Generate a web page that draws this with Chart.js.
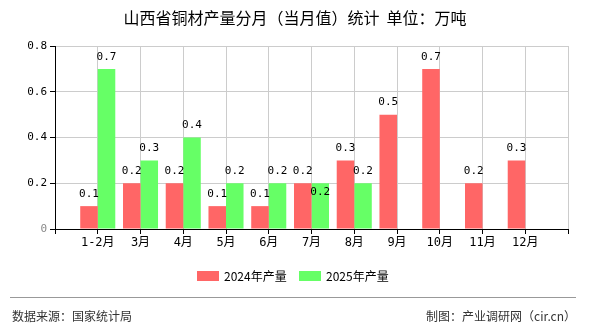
<!DOCTYPE html>
<html>
<head>
<meta charset="utf-8">
<script src="https://cdn.jsdelivr.net/npm/chart.js@4.4.1/dist/chart.umd.min.js"></script>
<style>
  html, body { margin: 0; padding: 0; background: #fff; }
  #wrap { width: 590px; height: 330px; position: relative; }
</style>
</head>
<body>
<div id="wrap"><canvas id="grafica"></canvas></div>
<script>
// datos del gráfico
const meses = ['1-2月', '3月', '4月', '5月', '6月', '7月', '8月', '9月', '10月', '11月', '12月'];
const produccion2024 = [0.1, 0.2, 0.2, 0.1, 0.1, 0.2, 0.3, 0.5, 0.7, 0.2, 0.3];
const produccion2025 = [0.7, 0.3, 0.4, 0.2, 0.2, 0.2, 0.2, null, null, null, null];
const ticksY = [0, 0.2, 0.4, 0.6, 0.8];
const titulo = '山西省铜材产量分月（当月值）统计  单位：万吨';
const fuente = '数据来源：国家统计局';
const autor = '制图：产业调研网（cir.cn）';

const MONO = '"DejaVu Sans Mono", "Noto Sans CJK SC", monospace';
const SANS = '"Noto Sans CJK SC", "DejaVu Sans", sans-serif';

// medio hueco a cada lado: etiqueta vacía al principio y al final
const etiquetas = ['', ...meses, ''];
const relleno = arr => [null, ...arr, null];

const decoracion = {
    id: 'decoracion',
    afterDatasetsDraw(chart) {
        const ctx = chart.ctx;
        ctx.save();
        ctx.font = '11px ' + MONO;
        ctx.fillStyle = '#000';
        ctx.textAlign = 'center';
        ctx.textBaseline = 'middle';
        const cajas = [];
        chart.data.datasets.forEach((ds, i) => {
            const meta = chart.getDatasetMeta(i);
            meta.data.forEach((bar, j) => {
                const v = ds.data[j];
                if (v === null || v === undefined) return;
                const txt = String(v);
                const w = ctx.measureText(txt).width;
                let y = bar.y - 12;
                // si choca con la etiqueta vecina, va dentro de la barra
                const choca = cajas.some(c => Math.abs(c.x - bar.x) < (c.w + w) / 2 && Math.abs(c.y - y) < 12);
                if (choca) y = bar.y + 9;
                cajas.push({ x: bar.x, y: y, w: w });
                ctx.fillText(txt, bar.x, y);
            });
        });
        ctx.restore();
    },
    afterDraw(chart) {
        const ctx = chart.ctx;
        ctx.save();
        // título
        ctx.fillStyle = '#000';
        ctx.font = '16px ' + SANS;
        ctx.textAlign = 'center';
        ctx.textBaseline = 'middle';
        ctx.fillText(titulo, 295, 18);

        // leyenda
        ctx.font = '12px ' + SANS;
        ctx.textAlign = 'left';
        const xs = [197, 299];
        chart.data.datasets.forEach((ds, i) => {
            ctx.fillStyle = ds.backgroundColor;
            ctx.fillRect(xs[i], 271, 22, 10);
            ctx.fillStyle = '#000';
            ctx.fillText(ds.label, xs[i] + 27, 276);
        });

        // pie
        ctx.strokeStyle = '#999';
        ctx.lineWidth = 1;
        ctx.beginPath();
        ctx.moveTo(10, 297.5);
        ctx.lineTo(576, 297.5);
        ctx.stroke();
        ctx.fillStyle = '#333';
        ctx.font = '12px ' + SANS;
        ctx.fillText(fuente, 12, 316);
        ctx.textAlign = 'right';
        ctx.fillText(autor, 576, 316);
        ctx.restore();
    }
};

new Chart(document.getElementById('grafica'), {
    type: 'bar',
    data: {
        labels: etiquetas,
        datasets: [
            {
                label: '2024年产量',
                data: relleno(produccion2024),
                backgroundColor: '#ff6666',
                categoryPercentage: 0.82,
                barPercentage: 1.0
            },
            {
                label: '2025年产量',
                data: relleno(produccion2025),
                backgroundColor: '#66ff66',
                categoryPercentage: 0.82,
                barPercentage: 1.0
            }
        ]
    },
    options: {
        responsive: true,
        maintainAspectRatio: false,
        animation: false,
        layout: { padding: { top: 46, left: 0, right: 22, bottom: 76 } },
        plugins: {
            legend: { display: false },
            title: { display: false },
            tooltip: { enabled: false }
        },
        scales: {
            x: {
                offset: false,
                grid: { display: true, offset: false, color: '#cccccc', tickColor: '#000', tickLength: 5, drawOnChartArea: true },
                border: { color: '#000', width: 1 },
                ticks: { color: '#000', font: { size: 12, family: MONO }, maxRotation: 0, autoSkip: false, padding: 2 },
                afterFit: s => { s.height = 25; }
            },
            y: {
                min: 0,
                max: 0.8,
                afterBuildTicks: s => { s.ticks = ticksY.map(v => ({ value: v })); },
                grid: { color: '#cccccc', tickColor: '#000', tickLength: 5 },
                border: { color: '#000', width: 1 },
                ticks: {
                    font: { size: 11, family: MONO },
                    color: ctx => ctx.index === 0 ? '#888' : '#000',
                    padding: 3,
                    callback: v => String(v)
                },
                afterFit: s => { s.width = 55; }
            }
        }
    },
    plugins: [decoracion]
});
</script>
</body>
</html>
